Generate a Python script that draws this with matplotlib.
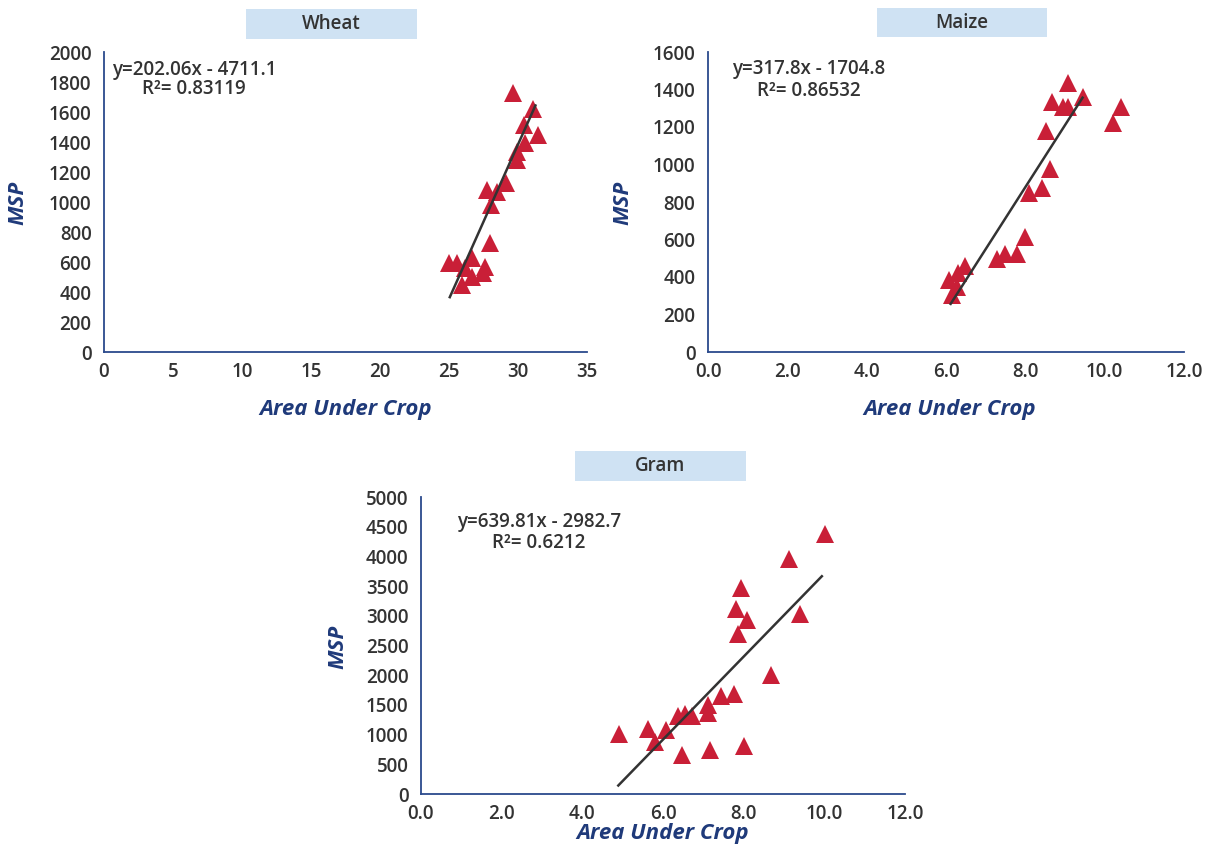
import matplotlib
matplotlib.use("Agg")
import matplotlib.pyplot as plt
from matplotlib.patches import Rectangle
from matplotlib.ticker import FormatStrFormatter

plt.rcParams['font.family'] = ['Open Sans', 'DejaVu Sans']

# ---------------- data ----------------
wheat_x = [29.66, 31.06, 30.43, 31.47, 30.5, 29.9, 29.9, 29.13, 27.73, 28.46,
           28.02, 27.97, 25.02, 25.6, 26.64, 26.16, 27.6, 27.49, 26.64, 25.92]
wheat_y = [1725, 1618, 1513, 1447, 1396, 1336, 1280, 1125, 1080, 1069,
           980, 725, 591, 591, 625, 558, 569, 525, 502, 447]
wheat_fit_x = [25.02, 31.3]
wheat_fit_y = [358, 1651]

maize_x = [9.08, 9.46, 8.66, 8.94, 9.08, 10.41, 10.22, 8.52, 8.62, 8.41,
           8.1, 7.99, 7.78, 7.49, 7.28, 6.48, 6.31, 6.08, 6.27, 6.14]
maize_y = [1436, 1362, 1335, 1308, 1308, 1308, 1223, 1179, 974, 873,
           846, 615, 521, 521, 496, 459, 420, 384, 348, 304]
maize_fit_x = [6.1, 9.46]
maize_fit_y = [251, 1362]

gram_x = [10.01, 9.13, 7.94, 7.82, 8.09, 9.4, 7.86, 8.67, 7.76, 7.45, 7.12,
          7.12, 6.71, 6.54, 6.36, 6.07, 5.63, 5.81, 4.91, 6.46, 7.16, 8.01]
gram_y = [4372, 3962, 3474, 3109, 2923, 3025, 2688, 1997, 1677, 1643, 1492,
          1362, 1307, 1340, 1307, 1083, 1100, 874, 1015, 650, 734, 802]
gram_fit_x = [4.87, 9.96]
gram_fit_y = [128, 3681]

titles = ["Wheat", "Maize", "Gram"]
equations = ["y=202.06x - 4711.1", "y=317.8x - 1704.8", "y=639.81x - 2982.7"]
r2_texts = ["R\u00b2= 0.83119", "R\u00b2= 0.86532", "R\u00b2= 0.6212"]
x_limits = [(0, 35), (0, 12), (0, 12)]
x_ticks = [[0, 5, 10, 15, 20, 25, 30, 35], [0, 2, 4, 6, 8, 10, 12], [0, 2, 4, 6, 8, 10, 12]]
y_limits = [(0, 2000), (0, 1600), (0, 5000)]
y_steps = [200, 200, 500]
x_label = "Area Under Crop"
y_label = "MSP"

# ---------------- style ----------------
W, H = 1214, 848
fig = plt.figure(figsize=(W / 100, H / 100), dpi=100)

def fx(px):
    return px / W

def fy(py):
    return 1 - py / H

# axes boxes in pixels: left, right, top, bottom
boxes = [(104, 587, 52, 352), (708, 1184, 52, 352), (421, 905, 497, 794)]
title_boxes = [(246, 417, 9, 39), (877, 1047, 8, 37), (575, 746, 451, 481)]
eq_pos = [(194, 70, 89), (809, 69, 91), (539, 522, 543)]
xlabel_y = [410, 410, 834]
ylabel_x = [18, 623, 338]

data = [(wheat_x, wheat_y, wheat_fit_x, wheat_fit_y),
        (maize_x, maize_y, maize_fit_x, maize_fit_y),
        (gram_x, gram_y, gram_fit_x, gram_fit_y)]

spine_col = '#2b4a8c'
label_col = '#1f3a7a'
text_col = '#333333'
red = '#c91f37'

for i in range(3):
    l, r, t, b = boxes[i]
    ax = fig.add_axes([fx(l), fy(b), fx(r) - fx(l), fy(t) - fy(b)])
    xs, ys, fxs, fys = data[i]
    ax.plot(xs, ys, linestyle='none', marker='^', markersize=13,
            color=red, markeredgewidth=0, zorder=3)
    ax.plot(fxs, fys, color='#333333', linewidth=1.8, zorder=4,
            solid_capstyle='butt')
    ax.set_xlim(*x_limits[i])
    ax.set_ylim(*y_limits[i])
    ax.set_xticks(x_ticks[i])
    lo, hi = y_limits[i]
    ax.set_yticks(list(range(lo, hi + 1, y_steps[i])))
    if i > 0:
        ax.xaxis.set_major_formatter(FormatStrFormatter('%.1f'))
    for s in ['top', 'right']:
        ax.spines[s].set_visible(False)
    for s in ['left', 'bottom']:
        ax.spines[s].set_color(spine_col)
        ax.spines[s].set_linewidth(1.3)
    ax.tick_params(axis='both', length=0, labelsize=13.5, labelcolor=text_col)
    ax.tick_params(axis='y', pad=9)
    ax.tick_params(axis='x', pad=7)
    for lab in ax.get_xticklabels() + ax.get_yticklabels():
        lab.set_fontweight('semibold')
    ax.patch.set_alpha(0)
    for art in ax.lines:
        art.set_clip_on(False)

    # axis labels
    fig.text(fx((l + r) / 2 + (4 if i == 1 else 0)), fy(xlabel_y[i]), x_label,
             ha='center', va='center', fontsize=16, fontweight='bold',
             fontstyle='italic', color=label_col)
    fig.text(fx(ylabel_x[i]), fy((t + b) / 2 + 1), y_label, rotation=90,
             ha='center', va='center', fontsize=16, fontweight='bold',
             fontstyle='italic', color=label_col)

    # title box
    tl, tr, tt, tb = title_boxes[i]
    fig.patches.append(Rectangle((fx(tl), fy(tb)), fx(tr) - fx(tl), fy(tt) - fy(tb),
                                 transform=fig.transFigure, facecolor='#cfe2f3',
                                 edgecolor='none', zorder=0))
    fig.text(fx((tl + tr) / 2), fy((tt + tb) / 2), titles[i], ha='center',
             va='center', fontsize=13.5, fontweight='semibold', color=text_col)

    # equation text
    ex, ey1, ey2 = eq_pos[i]
    fig.text(fx(ex), fy(ey1), equations[i], ha='center', va='center',
             fontsize=13.5, fontweight='semibold', color=text_col)
    fig.text(fx(ex), fy(ey2), r2_texts[i], ha='center', va='center',
             fontsize=13.5, fontweight='semibold', color=text_col)

fig.savefig('out.png', dpi=100)
